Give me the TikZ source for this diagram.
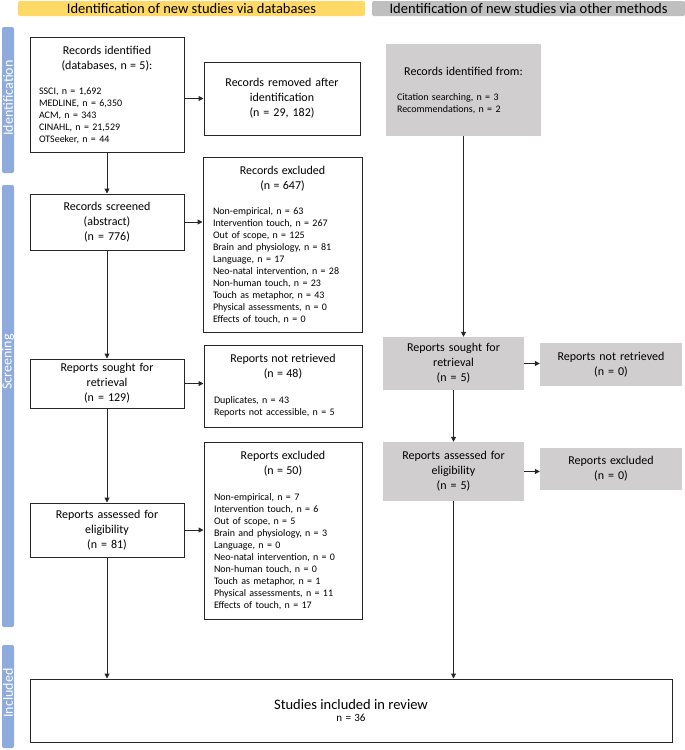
\documentclass[tikz,border=0pt]{standalone}
\usepackage{fontspec}
\setmainfont{Carlito}
\usetikzlibrary{arrows.meta}
\definecolor{hdryellow}{HTML}{FFD966}
\definecolor{hdrgray}{HTML}{BFBFBF}
\definecolor{boxgray}{HTML}{D0CECE}
\definecolor{barblue}{HTML}{8FAADC}
\newcommand\boxtitle{\fontsize{12}{15}\selectfont}
\newcommand\boxlist{\fontsize{10}{12}\selectfont}
\begin{document}
\begin{tikzpicture}[x=1pt,y=-1pt,
  frame/.style={draw=black!85, line width=1pt, fill=white, inner sep=0pt},
  graybox/.style={fill=boxgray, draw=none, inner sep=0pt},
  hdr/.style={rounded corners=2pt, inner sep=0pt, font=\fontsize{14.5}{15}\selectfont},
  sidebar/.style={fill=barblue, rounded corners=2pt, inner sep=0pt, rotate=90},
  sidetext/.style={rotate=90, inner sep=0pt, text=white, font=\fontsize{14}{16}\selectfont},
  arr/.style={draw=black!85, line width=1pt, -{Triangle[length=5pt,width=5pt]}}
]
\useasboundingbox (0,0) rectangle (685,750);

% headers
\node[hdr, fill=hdryellow, minimum width=347, minimum height=15] (hdrA) at (191.5,8.5)
  {Identification of new studies via databases};
\node[hdr, fill=hdrgray, minimum width=313, minimum height=15] (hdrB) at (528.5,8.5)
  {Identification of new studies via other methods};

% side bars
\node[sidebar, minimum width=146, minimum height=12] (s1) at (8,100) {};
\node[sidebar, minimum width=442, minimum height=12] (s2) at (8,406) {};
\node[sidebar, minimum width=103, minimum height=12] (s3) at (8,696.5) {};
\node[sidetext] (t1) at (8,98) {Identification};
\node[sidetext] (t2) at (8,362) {Screening};
\node[sidetext] (t3) at (8,693) {Included};

% left column
\node[frame, minimum width=154, minimum height=115, text width=136, align=left] (A) at (107,94.5)
  {{\centering\boxtitle Records identified\\(databases, n = 5):\par}\vspace{13pt}%
   {\boxlist SSCI, n = 1,692\\MEDLINE, n = 6,350\\ACM, n = 343\\CINAHL, n = 21,529\\OTSeeker, n = 44\par}};
\node[frame, minimum width=156, minimum height=73, text width=140, align=center, font=\boxtitle] (B) at (282,98.5)
  {Records removed after\\identification\\(n = 29, 182)};
\node[frame, minimum width=154, minimum height=56, text width=140, align=center, font=\boxtitle] (C) at (107,222)
  {Records screened\\(abstract)\\(n = 776)};
\node[frame, minimum width=159, minimum height=175, text width=139, align=left] (D) at (282.5,244.5)
  {{\centering\boxtitle Records excluded\\(n = 647)\par}\vspace{13pt}%
   {\boxlist Non-empirical, n = 63\\Intervention touch, n = 267\\Out of scope, n = 125\\Brain and physiology, n = 81\\Language, n = 17\\Neo-natal intervention, n = 28\\Non-human touch, n = 23\\Touch as metaphor, n = 43\\Physical assessments, n = 0\\Effects of touch, n = 0\par}};
\node[frame, minimum width=154, minimum height=49, text width=140, align=center, font=\boxtitle] (E) at (107,383.5)
  {Reports sought for\\retrieval\\(n = 129)};
\node[frame, minimum width=158, minimum height=82, text width=138, align=left] (F) at (283,386)
  {{\centering\boxtitle Reports not retrieved\\(n = 48)\par}\vspace{14pt}%
   {\boxlist Duplicates, n = 43\\Reports not accessible, n = 5\par}};
\node[frame, minimum width=158, minimum height=177, text width=138, align=left] (G) at (283,530.5)
  {{\centering\boxtitle Reports excluded\\(n = 50)\par}\vspace{14pt}%
   {\boxlist Non-empirical, n = 7\\Intervention touch, n = 6\\Out of scope, n = 5\\Brain and physiology, n = 3\\Language, n = 0\\Neo-natal intervention, n = 0\\Non-human touch, n = 0\\Touch as metaphor, n = 1\\Physical assessments, n = 11\\Effects of touch, n = 17\par}};
\node[frame, minimum width=154, minimum height=54, text width=140, align=center, font=\boxtitle] (H) at (107,530)
  {Reports assessed for\\eligibility\\(n = 81)};
\node[frame, minimum width=642, minimum height=63, text width=600, align=center] (I) at (351,710.5)
  {{\fontsize{14.5}{16}\selectfont Studies included in review}\\{\fontsize{11}{16}\selectfont n = 36}};

% right column
\node[graybox, minimum width=155, minimum height=92, text width=133, align=left] (J) at (463.5,90)
  {{\centering\boxtitle Records identified from:\par}\vspace{13pt}%
   {\boxlist Citation searching, n = 3\\Recommendations, n = 2\par}};
\node[graybox, minimum width=141, minimum height=53, text width=135, align=center, font=\boxtitle] (K) at (453.5,363.5)
  {Reports sought for\\retrieval\\(n = 5)};
\node[graybox, minimum width=142, minimum height=43, text width=136, align=center, font=\boxtitle] (L) at (611,364.5)
  {Reports not retrieved\\(n = 0)};
\node[graybox, minimum width=141, minimum height=59, text width=135, align=center, font=\boxtitle] (M) at (453.5,471.5)
  {Reports assessed for\\eligibility\\(n = 5)};
\node[graybox, minimum width=142, minimum height=42, text width=136, align=center, font=\boxtitle] (N) at (611,469)
  {Reports excluded\\(n = 0)};

% connectors
\draw[arr] (A) -- (C);
\draw[arr] (B.west -| A.east) -- (B.west);
\draw[arr] (C.east) -- (C.east -| D.west);
\draw[arr] (C) -- (E);
\draw[arr] (E.east) -- (E.east -| F.west);
\draw[arr] (E) -- (H);
\draw[arr] (H.east) -- (H.east -| G.west);
\draw[arr] (H.south) -- (H.south |- I.north);
\draw[arr] (J.south) -- (J.south |- K.north);
\draw[arr] (K.east) -- (K.east -| L.west);
\draw[arr] (K) -- (M);
\draw[arr] (M.east) -- (M.east -| N.west);
\draw[arr] (M.south) -- (M.south |- I.north);
\end{tikzpicture}
\end{document}
